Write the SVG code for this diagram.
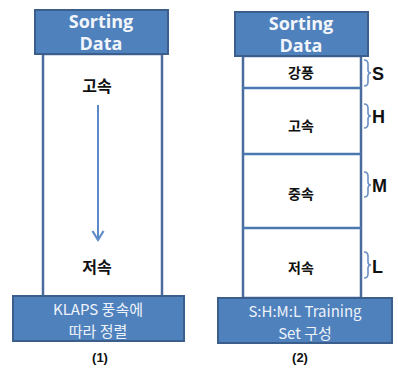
<svg xmlns="http://www.w3.org/2000/svg" width="398" height="372" viewBox="0 0 398 372">
<defs>
<style>
.hdr{fill:#4F81BD;stroke:#3B5E8C;stroke-width:2}
.body{fill:#FFFFFF;stroke:#4A6B9C;stroke-width:2.5}
.div{stroke:#4A78B0;stroke-width:2.5}
.ht{font-family:"Open Sans","Noto Sans",sans-serif;font-weight:bold;font-size:18px;fill:#F2F6FB;text-anchor:middle}
.bt{font-family:"Noto Sans CJK KR","Noto Sans",sans-serif;font-size:15px;fill:#EEF3FA;text-anchor:middle}
.kt{font-family:"Noto Sans CJK KR",sans-serif;font-weight:bold;font-size:14px;fill:#111;text-anchor:middle}
.kb{font-family:"Noto Sans CJK KR",sans-serif;font-weight:bold;font-size:16px;fill:#111;text-anchor:middle}
.cap{font-family:"Liberation Sans",Arial,sans-serif;font-weight:bold;font-size:13px;fill:#111;text-anchor:middle}
.lt{font-family:"Liberation Sans",Arial,sans-serif;font-weight:bold;font-size:18px;fill:#111}
.br{fill:none;stroke:#6A8FC4;stroke-width:1.6}
</style>
</defs>
<rect width="398" height="372" fill="#FFFFFF"/>

<g id="left-body"><rect class="body" x="43" y="54" width="119" height="243"/></g>
<g id="left-header"><rect class="hdr" x="35" y="10" width="133" height="44"/>
<text class="ht" x="101" y="28">Sorting</text><text class="ht" x="101" y="50">Data</text></g>
<g id="left-high"><text class="kb" x="97" y="92">고속</text></g>
<g id="left-low"><text class="kb" x="97" y="273">저속</text></g>
<g id="left-bottom"><rect class="hdr" x="13" y="296" width="171" height="45"/>
<text class="bt" x="98" y="315">KLAPS 풍속에</text><text class="bt" x="98" y="337">따라 정렬</text></g>
<g id="cap1"><text class="cap" x="100" y="362">(1)</text></g>

<g id="right-body"><rect class="body" x="243" y="56" width="118" height="242"/></g>
<g id="right-header"><rect class="hdr" x="235" y="12" width="133" height="44"/>
<text class="ht" x="301" y="30">Sorting</text><text class="ht" x="301" y="52">Data</text></g>
<g id="seg-s"><text class="kt" x="301" y="78">강풍</text></g>
<g id="seg-h"><text class="kt" x="301" y="131">고속</text></g>
<g id="seg-m"><text class="kt" x="301" y="199">중속</text></g>
<g id="seg-l"><text class="kt" x="301" y="273">저속</text></g>
<g id="right-bottom"><rect class="hdr" x="218" y="298" width="174" height="45"/>
<text class="bt" x="305" y="317">S:H:M:L Training</text><text class="bt" x="305" y="339">Set 구성</text></g>
<g id="cap2"><text class="cap" x="300" y="362">(2)</text></g>

<g id="label-s"><path class="br" d="M364,60 Q368,60 368,64 L368,70 Q368,73 371,73 Q368,73 368,76 L368,82 Q368,86 364,86"/><text class="lt" x="372" y="80">S</text></g>
<g id="label-h"><path class="br" d="M364,104 Q368,104 368,108 L368,113 Q368,116 371,116 Q368,116 368,119 L368,124 Q368,128 364,128"/><text class="lt" x="372" y="123">H</text></g>
<g id="label-m"><path class="br" d="M364,172 Q368,172 368,176 L368,182 Q368,185 371,185 Q368,185 368,188 L368,193 Q368,197 364,197"/><text class="lt" x="372" y="192">M</text></g>
<g id="label-l"><path class="br" d="M364,252 Q368,252 368,256 L368,262 Q368,265 371,265 Q368,265 368,268 L368,274 Q368,278 364,278"/><text class="lt" x="372" y="273">L</text></g>

<g id="connectors">
<line x1="98" y1="105" x2="98" y2="238" stroke="#5B8BC9" stroke-width="2"/>
<path d="M92.5,231 L98,240 L103.5,231" fill="none" stroke="#5B8BC9" stroke-width="2.2" stroke-linejoin="miter"/>
<line class="div" x1="243" y1="88" x2="361" y2="88"/>
<line class="div" x1="243" y1="154" x2="361" y2="154"/>
<line class="div" x1="243" y1="228" x2="361" y2="228"/>
</g>
</svg>
